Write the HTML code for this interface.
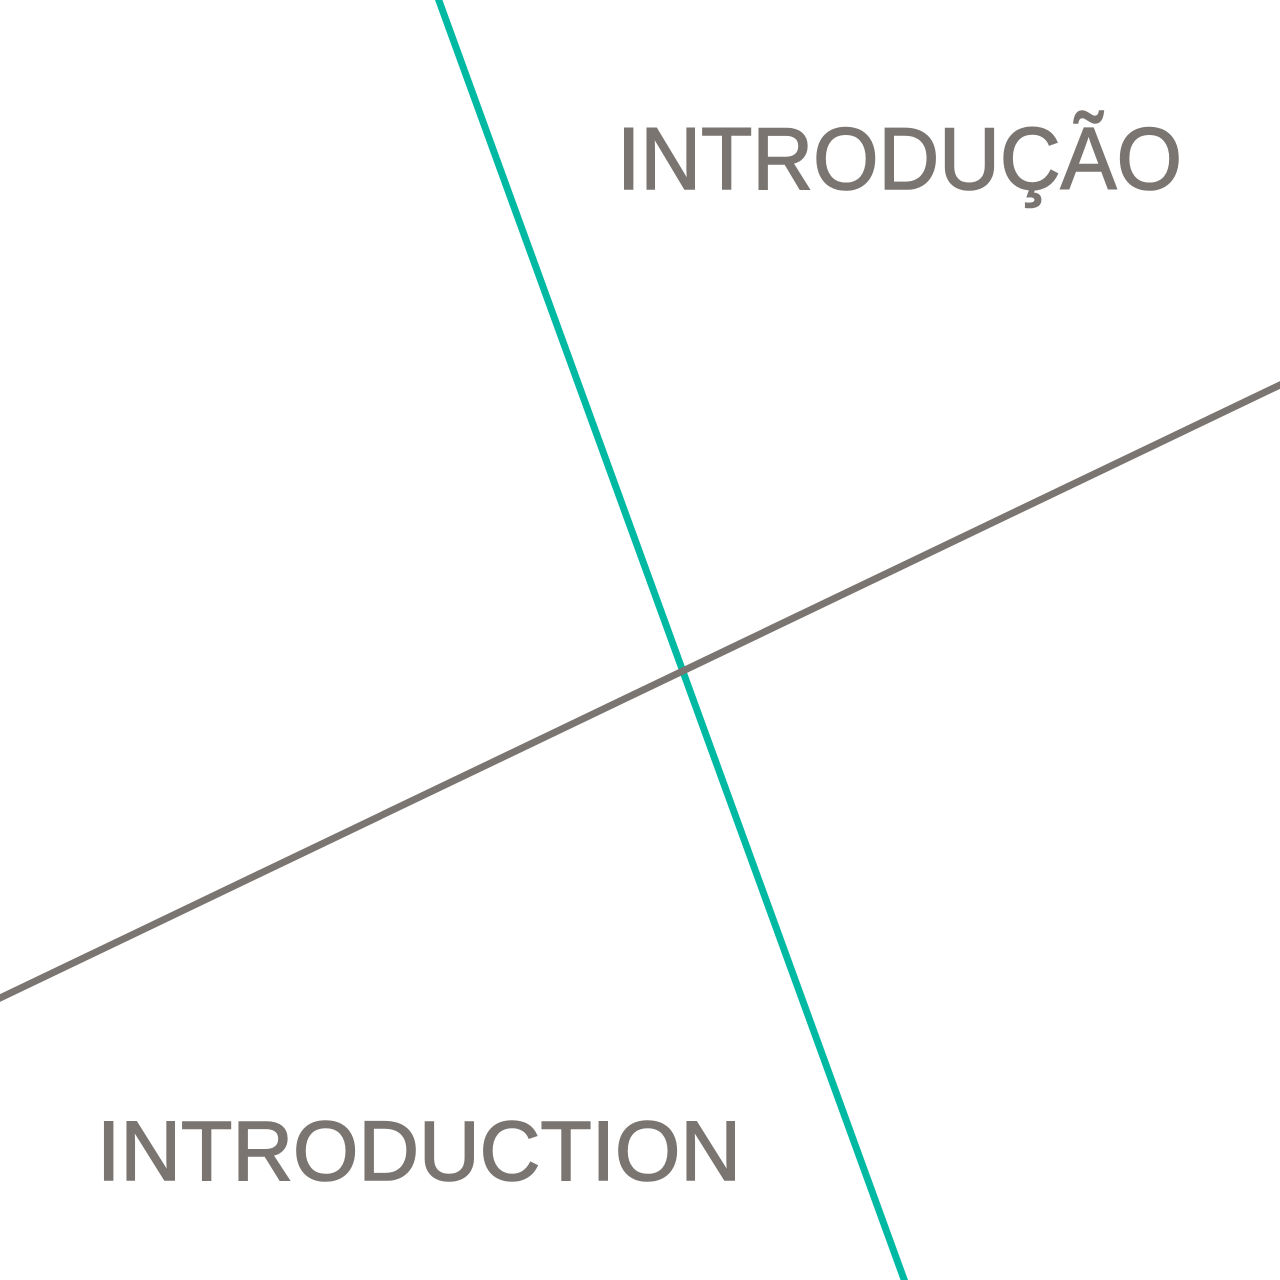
<!DOCTYPE html>
<html>
<head>
<meta charset="utf-8">
<style>
html,body{margin:0;padding:0;background:#fff;}
svg{display:block;}
</style>
</head>
<body>
<svg width="1280" height="1280" viewBox="0 0 1280 1280" xmlns="http://www.w3.org/2000/svg">
  <rect width="1280" height="1280" fill="#ffffff"/>
  <line x1="438" y1="-2" x2="905" y2="1282" stroke="#00b9a3" stroke-width="7"/>
  <line x1="-2" y1="999" x2="1282" y2="384" stroke="#7a7571" stroke-width="7"/>
  <text x="617" y="189" font-family="Liberation Sans, sans-serif" font-size="88" fill="#7a7571" stroke="#7a7571" stroke-width="1.6" textLength="565" lengthAdjust="spacingAndGlyphs">INTRODUÇÃO</text>
  <text x="97" y="1180" font-family="Liberation Sans, sans-serif" font-size="84" fill="#7a7571" stroke="#7a7571" stroke-width="1.6" textLength="644" lengthAdjust="spacingAndGlyphs">INTRODUCTION</text>
</svg>
</body>
</html>
